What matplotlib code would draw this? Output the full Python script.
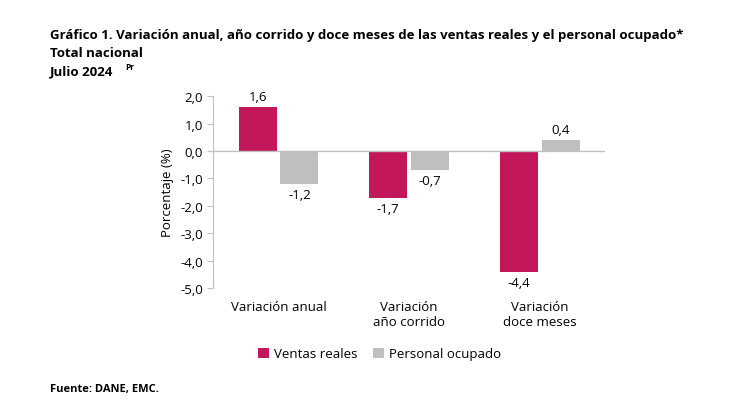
import matplotlib
matplotlib.use("Agg")
import matplotlib.pyplot as plt
import numpy as np

categorias = ["Variación anual", "Variación\naño corrido", "Variación\ndoce meses"]
ventas_reales = [1.6, -1.7, -4.4]
personal_ocupado = [-1.2, -0.7, 0.4]

COLOR_VENTAS = "#C2185B"
COLOR_PERSONAL = "#BFBFBF"

plt.rcParams["font.family"] = ["Open Sans", "DejaVu Sans"]

fig = plt.figure(figsize=(7.3, 4.1), dpi=100)
ax = fig.add_axes([0.292, 0.295, 0.537, 0.468])

x = np.arange(len(categorias))
w = 0.29
b1 = ax.bar(x - w / 2 - 0.015, ventas_reales, w, color=COLOR_VENTAS, label="Ventas reales")
b2 = ax.bar(x + w / 2 + 0.015, personal_ocupado, w, color=COLOR_PERSONAL, label="Personal ocupado")

for barras, vals in [(b1, ventas_reales), (b2, personal_ocupado)]:
    for b, v in zip(barras, vals):
        off = 0.15 if v >= 0 else -0.15
        ax.text(b.get_x() + b.get_width() / 2, v + off, f"{v:.1f}".replace(".", ","),
                ha="center", va="bottom" if v >= 0 else "top", fontsize=9.5)

ax.set_xlim(-0.5, 2.5)
ax.set_ylim(-5, 2)
ax.set_yticks(np.arange(-5, 2.1, 1))
ax.set_yticklabels([f"{t:.1f}".replace(".", ",") for t in np.arange(-5, 2.1, 1)], fontsize=9.5)
ax.set_xticks([])
ax.axhline(0, color="#BFBFBF", lw=1)
for s in ["top", "right", "bottom"]:
    ax.spines[s].set_visible(False)
ax.spines["left"].set_color("#BFBFBF")
ax.tick_params(axis="y", length=4, color="#BFBFBF")
ax.set_ylabel("Porcentaje (%)", fontsize=9.5)

for i, c in enumerate(categorias):
    ax.text(i, -5.45, c, ha="center", va="top", fontsize=9.5, transform=ax.transData)

fig.legend(handles=[b1, b2], loc="center", bbox_to_anchor=(0.52, 0.135), ncol=2,
           frameon=False, fontsize=9.5, handlelength=0.8, handleheight=0.8, columnspacing=1.2,
           handletextpad=0.4)

fig.text(0.068, 0.905, "Gráfico 1. Variación anual, año corrido y doce meses de las ventas reales y el personal ocupado*",
         fontsize=9.5, fontweight="bold")
fig.text(0.068, 0.86, "Total nacional", fontsize=9.5, fontweight="bold")
fig.text(0.068, 0.815, "Julio 2024", fontsize=9.5, fontweight="bold")
fig.text(0.172, 0.83, "Pr", fontsize=6, fontweight="bold")
fig.text(0.068, 0.045, "Fuente: DANE, EMC.", fontsize=8, fontweight="bold")

fig.savefig("out.png", dpi=100, facecolor="white")
